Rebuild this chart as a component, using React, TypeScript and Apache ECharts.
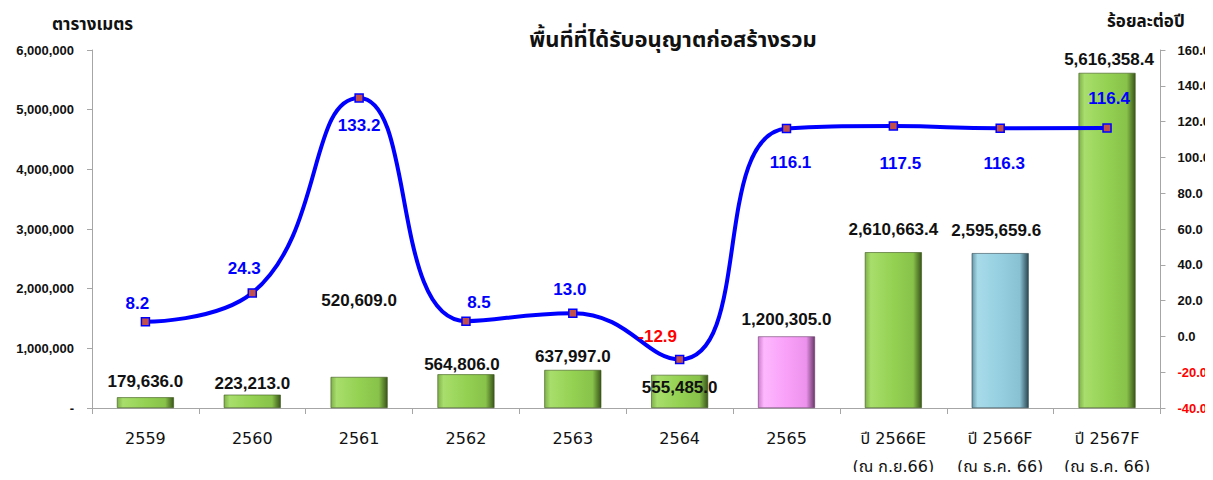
import React, { useEffect, useRef } from "react";
import * as echarts from "echarts";

const categories = [
  "2559",
  "2560",
  "2561",
  "2562",
  "2563",
  "2564",
  "2565",
  "ปี 2566E\n(ณ ก.ย.66)",
  "ปี 2566F\n(ณ ธ.ค. 66)",
  "ปี 2567F\n(ณ ธ.ค. 66)",
];
const areaValues = [
  179636.0, 223213.0, 520609.0, 564806.0, 637997.0, 555485.0, 1200305.0,
  2610663.4, 2595659.6, 5616358.4,
];
const growthValues = [8.2, 24.3, 133.2, 8.5, 13.0, -12.9, 116.1, 117.5, 116.3, 116.4];
const barColorKeys = ["g", "g", "g", "g", "g", "g", "p", "g", "b", "g"];

// label placement tweaks (styling only)
const barLabelOffsets = [
  [0, -2], [0, 2], [0, -63], [-4, 4], [0, 0], [0, 26], [0, -3], [0, -9], [-4, -9], [2, 0],
];
const lineLabelPos = ["top", "top", "bottom", "top", "top", "top", "bottom", "bottom", "bottom", "top"];
const lineLabelOffsets = [
  [-8, 0], [-8, -6], [0, 9], [13, 0], [-3, -5], [-22, -5], [4, 16], [7, 19], [4, 17], [2, -11],
];

const palettes: Record<string, string[]> = {
  g: ["#7fb04a", "#a8de6c", "#94d152", "#88c24a", "#3a561a"],
  p: ["#cf7acf", "#fdb8fd", "#f9a0f9", "#ec92ec", "#6a3a6a"],
  b: ["#6898a7", "#a8dbea", "#95cfe0", "#88c1d2", "#2c4852"],
};

function barGradient(key: string) {
  const c = palettes[key];
  return new echarts.graphic.LinearGradient(0, 0, 1, 0, [
    { offset: 0, color: c[0] },
    { offset: 0.1, color: c[1] },
    { offset: 0.5, color: c[2] },
    { offset: 0.85, color: c[3] },
    { offset: 1, color: c[4] },
  ]);
}

const thaiFont = "'Noto Sans Thai', 'DejaVu Sans', 'Noto Sans', sans-serif";
const catFont = "'DejaVu Sans', 'Noto Sans Thai', sans-serif";
const numFont = "'Liberation Sans', Arial, sans-serif";

export default function App() {
  const ref = useRef<HTMLDivElement>(null);
  useEffect(() => {
    if (!ref.current) return;
    const chart = echarts.init(ref.current, undefined, { renderer: "svg" });
    const option: any = {
      animation: false,
      backgroundColor: "#ffffff",
      title: {
        text: "พื้นที่ที่ได้รับอนุญาตก่อสร้างรวม",
        left: 668,
        top: 24,
        textAlign: "center",
        textStyle: { fontFamily: thaiFont, fontSize: 22, fontWeight: "bold", color: "#111" },
      },
      graphic: [
        {
          type: "text",
          left: 52,
          top: 16,
          style: { text: "ตารางเมตร", fontFamily: thaiFont, fontSize: 17, fontWeight: "bold", fill: "#111" },
        },
        {
          type: "text",
          left: 1107,
          top: 13,
          style: { text: "ร้อยละต่อปี", fontFamily: thaiFont, fontSize: 17, fontWeight: "bold", fill: "#111" },
        },
      ],
      grid: { left: 92, right: 52, top: 50, bottom: 70, containLabel: false },
      xAxis: {
        type: "category",
        data: categories,
        axisLine: { lineStyle: { color: "#a6a6a6", width: 1 } },
        axisTick: { show: true, length: 6, lineStyle: { color: "#a6a6a6" } },
        axisLabel: {
          fontFamily: catFont,
          fontSize: 16,
          color: "#111",
          lineHeight: 28,
          margin: 16,
          interval: 0,
        },
      },
      yAxis: [
        {
          type: "value",
          min: 0,
          max: 6000000,
          interval: 1000000,
          splitLine: { show: false },
          axisLine: { show: true, lineStyle: { color: "#a6a6a6" } },
          axisTick: { show: true, length: 5, lineStyle: { color: "#a6a6a6" } },
          axisLabel: {
            fontFamily: numFont,
            fontSize: 13,
            fontWeight: "bold",
            color: "#111",
            margin: 18,
            formatter: (v: number) => (v === 0 ? "-" : v.toLocaleString("en-US")),
          },
        },
        {
          type: "value",
          min: -40,
          max: 160,
          interval: 20,
          splitLine: { show: false },
          axisLine: { show: true, lineStyle: { color: "#a6a6a6" } },
          axisTick: { show: true, length: 5, lineStyle: { color: "#a6a6a6" } },
          axisLabel: {
            fontFamily: numFont,
            fontSize: 13,
            fontWeight: "bold",
            margin: 17,
            formatter: (v: number) => v.toFixed(1),
            color: (v: any) => (Number(v) < 0 ? "#ff0000" : "#111"),
          },
        },
      ],
      series: [
        {
          type: "bar",
          yAxisIndex: 0,
          barWidth: 57,
          data: areaValues.map((v, i) => ({
            value: v,
            itemStyle: { color: barGradient(barColorKeys[i]), borderColor: palettes[barColorKeys[i]][4], borderWidth: 0.6 },
            label: { offset: barLabelOffsets[i] },
          })),
          label: {
            show: true,
            position: "top",
            distance: 5,
            fontFamily: numFont,
            fontSize: 17,
            fontWeight: "bold",
            color: "#111",
            formatter: (p: any) =>
              Number(p.value).toLocaleString("en-US", { minimumFractionDigits: 1, maximumFractionDigits: 1 }),
          },
          z: 2,
        },
        {
          type: "line",
          yAxisIndex: 1,
          smooth: 0.5,
          symbol: "rect",
          symbolSize: 8,
          lineStyle: { color: "#0000ff", width: 4 },
          itemStyle: { color: "#c0504d", borderColor: "#0000ff", borderWidth: 1.5 },
          data: growthValues.map((v, i) => ({
            value: v,
            label: {
              position: lineLabelPos[i],
              offset: lineLabelOffsets[i],
              color: v < 0 ? "#ff0000" : "#0000ff",
            },
          })),
          label: {
            show: true,
            fontFamily: numFont,
            fontSize: 17,
            fontWeight: "bold",
            distance: 5,
            formatter: (p: any) => Number(p.value).toFixed(1),
          },
          z: 5,
        },
      ],
    };
    chart.setOption(option);
    return () => chart.dispose();
  }, []);
  return <div ref={ref} style={{ width: 1213, height: 480, margin: -8 }} />;
}
